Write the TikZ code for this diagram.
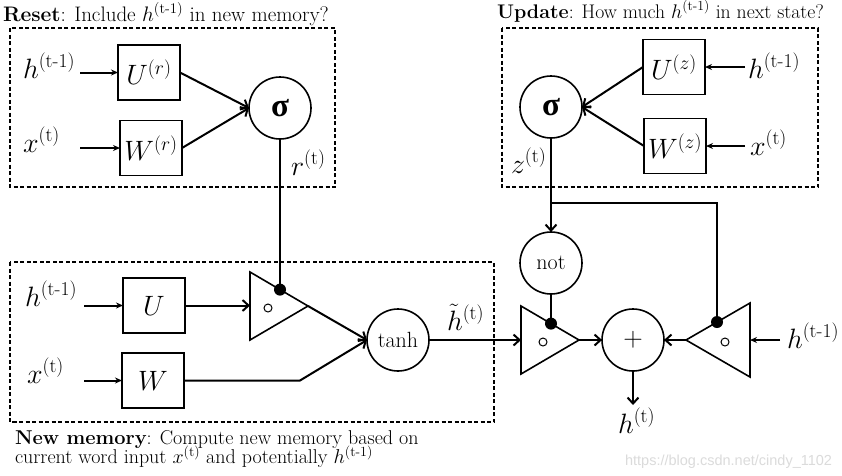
\RequirePackage{fix-cm}
\documentclass[tikz,border=0pt]{standalone}
\usepackage{amsmath}
\usepackage{fontspec}
\newfontfamily\grkfont{Liberation Serif}
\newfontfamily\wmfont{Liberation Sans}
\usetikzlibrary{arrows.meta}
\tikzset{
 every node/.style={inner sep=0pt, outer sep=0pt},
 wbox/.style={draw, line width=1.6pt, minimum width=62pt, minimum height=55pt, font=\fontsize{28}{30}\selectfont},
 opnode/.style={draw, circle, line width=1.6pt, minimum size=62pt},
 signode/.style={opnode, font=\grkfont\bfseries\fontsize{33}{34}\selectfont},
 gate/.style={draw, line width=1.6pt, line join=miter},
 dot/.style={fill, circle, minimum size=12pt},
 ring/.style={draw, circle, line width=1pt, minimum size=8pt},
 conn/.style={line width=2pt, -{Straight Barb[length=6pt,width=11pt,line width=2pt]}},
 wire/.style={line width=2pt},
 inarr/.style={line width=2pt, -{Stealth[length=7pt,width=6pt]}},
 frame/.style={line width=1.5pt, dash pattern=on 4pt off 2.5pt},
 biglbl/.style={font=\fontsize{28}{30}\selectfont, anchor=base west},
 ttl/.style={font=\fontsize{20}{24}\selectfont, anchor=base west},
}
\begin{document}
\begin{tikzpicture}[x=1pt,y=-1pt]
\fill[white] (0,0) rectangle (842,475);
\useasboundingbox (0,0) rectangle (842,475);

% ---------- Reset ----------
\node[ttl, font=\fontsize{21}{24}\selectfont] (treset) at (3,21) {\textbf{Reset}: Include $h^{(\text{t-1})}$ in new memory?};
\draw[frame] (10,28) rectangle (335,187);
\node[wbox] (Ur) at (149,72.5) {$U^{(r)}$};
\node[wbox] (Wr) at (151,148) {$W^{(r)}$};
\node[signode] (sr) at (280,108) {σ};
\node[biglbl] (lh1) at (23,78) {$h^{(\text{t-1})}$};
\node[biglbl] (lx1) at (23,152) {$x^{(\text{t})}$};
\node[biglbl] (lr) at (291,175) {$r^{(\text{t})}$};
\coordinate (a1) at (80,72.5);
\coordinate (a2) at (80,148);
\draw[inarr] (a1) -- (Ur.west);
\draw[inarr] (a2) -- (Wr.west);
\draw[conn] (Ur.east) -- (sr.west);
\draw[conn] (Wr.east) -- (sr.west);

% ---------- Update ----------
\node[ttl, font=\fontsize{19.7}{24}\selectfont] (tupdate) at (497,18) {\textbf{Update}: How much $h^{(\text{t-1})}$ in next state?};
\draw[frame] (502,28) rectangle (818,187);
\node[wbox] (Uz) at (674,67) {$U^{(z)}$};
\node[wbox] (Wz) at (675,146) {$W^{(z)}$};
\node[signode] (sz) at (551,107) {σ};
\node[biglbl] (lh3) at (748,78) {$h^{(\text{t-1})}$};
\node[biglbl] (lx3) at (750,155) {$x^{(\text{t})}$};
\node[biglbl] (lz) at (511,173) {$z^{(\text{t})}$};
\coordinate (a3) at (745,67);
\coordinate (a4) at (745,146);
\draw[inarr] (a3) -- (Uz.east);
\draw[inarr] (a4) -- (Wz.east);
\draw[conn] (Uz.west) -- (sz.east);
\draw[conn] (Wz.west) -- (sz.east);

% ---------- New memory ----------
\draw[frame] (10,262) rectangle (494,422);
\node[wbox] (U) at (154,305.5) {$U$};
\node[wbox] (W) at (153,380.5) {$W$};
\node[biglbl] (lh2) at (25,306) {$h^{(\text{t-1})}$};
\node[biglbl] (lx2) at (27,383) {$x^{(\text{t})}$};
\coordinate (a5) at (84,305.5);
\coordinate (a6) at (84,380.5);
\draw[inarr] (a5) -- (U.west);
\draw[inarr] (a6) -- (W.west);
% gate 1
\draw[gate] (250,272) -- (308,306) -- (250,340) -- cycle;
\coordinate (g1in) at (250,305.5);
\coordinate (g1out) at (308,306);
\node[ring] (r1) at (268,308) {};
\node[dot] (d1) at (280,289.6) {};
\node[opnode, font=\fontsize{22}{24}\selectfont] (tanh) at (398,340) {tanh};
\node[biglbl] (lht) at (447,330) {$\tilde{h}^{(\text{t})}$};
\draw[conn] (U.east) -- (g1in);
\draw[wire] (sr.south) -- (d1.center);
\draw[conn] (g1out) -- (tanh.west);
\coordinate (bend) at (300,380.5);
\draw[conn] (W.east) -- (bend) -- (tanh.west);

\node[align=left, anchor=north west, font={\fontsize{20}{18.5}\selectfont\lineskiplimit=-30pt}] (cap) at (15,431) {\textbf{New memory}: Compute new memory based on\\current word input $x^{(\text{t})}$ and potentially $h^{(\text{t-1})}$};

% ---------- Combination ----------
\draw[gate] (521,306) -- (579,340) -- (521,374) -- cycle;
\coordinate (g2in) at (521,340);
\coordinate (g2out) at (579,340);
\node[ring] (r2) at (543,342) {};
\node[dot] (d2) at (551,323.6) {};
\draw[gate] (750,303) -- (686,340) -- (750,377) -- cycle;
\coordinate (g3in) at (750,340);
\coordinate (g3out) at (686,340);
\node[ring] (r3) at (725,342) {};
\node[dot] (d3) at (717,322) {};
\node[opnode, font=\fontsize{27}{28}\selectfont] (plus) at (633,340) {$+$};
\node[opnode, font=\fontsize{22}{24}\selectfont] (nt) at (551,263) {not};
\node[biglbl] (lh4) at (787,348) {$h^{(\text{t-1})}$};
\node[biglbl] (lhout) at (618,433) {$h^{(\text{t})}$};
\coordinate (a7) at (780,340);
\coordinate (hout) at (633,405);
\coordinate (j1) at (551,203);

\draw[conn] (tanh.east) -- (g2in);
\draw[conn] (g2out) -- (plus.west);
\draw[conn] (g3out) -- (plus.east);
\draw[inarr] (a7) -- (g3in);
\draw[conn] (plus.south) -- (hout);
\draw[conn] (sz.south) -- (nt.north);
\draw[wire] (j1) -| (d3.center);
\draw[wire] (nt.south) -- (d2.center);

\node[font=\wmfont\fontsize{14.5}{16}\selectfont, text=black!14, anchor=base east] (wm) at (832,465) {https://blog.csdn.net/cindy\_1102};
\end{tikzpicture}
\end{document}
